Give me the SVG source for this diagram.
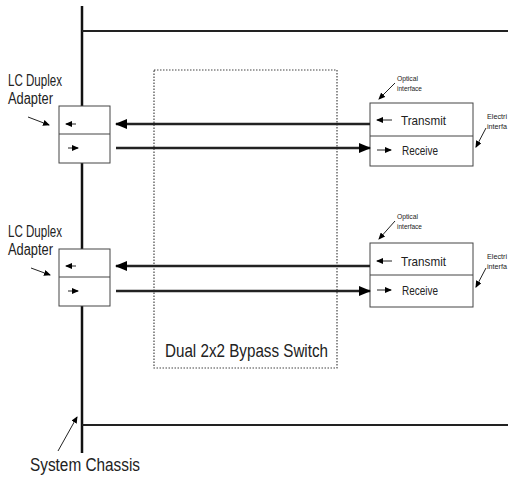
<svg xmlns="http://www.w3.org/2000/svg" width="508" height="477" viewBox="0 0 508 477">
<defs>
<marker id="big" markerWidth="12" markerHeight="10" refX="11" refY="5" orient="auto" markerUnits="userSpaceOnUse"><path d="M0,0 L12,5 L0,10 Z" fill="#000"/></marker>
<marker id="sm" markerWidth="7" markerHeight="6" refX="6" refY="3" orient="auto" markerUnits="userSpaceOnUse"><path d="M0,0 L7,3 L0,6 Z" fill="#000"/></marker>
</defs>
<style>
.t{font-family:"Liberation Sans",Arial,sans-serif;fill:#222}
.box{fill:#fff;stroke:#444;stroke-width:1}
.wire{stroke:#222;stroke-width:2.5;fill:none}
.thin{stroke:#222;stroke-width:1;fill:none}
</style>
<g id="chassis">
<line x1="82" y1="6" x2="82" y2="453" stroke="#111" stroke-width="2.5"/>
<line x1="82" y1="31" x2="508" y2="31" stroke="#222" stroke-width="2"/>
<line x1="82" y1="425" x2="508" y2="425" stroke="#222" stroke-width="2"/>
<text class="t" x="30" y="471" font-size="17.5" textLength="110" lengthAdjust="spacingAndGlyphs">System Chassis</text>
<line class="thin" x1="58" y1="451" x2="77" y2="417" marker-end="url(#sm)"/>
</g>
<g id="switch">
<rect x="154" y="70" width="183" height="298" fill="none" stroke="#444" stroke-width="1.2" stroke-dasharray="1.5,1.5"/>
<text class="t" x="165" y="357" font-size="18.5" textLength="163" lengthAdjust="spacingAndGlyphs">Dual 2x2 Bypass Switch</text>
</g>
<g id="lc1">
<rect class="box" x="59" y="106" width="51" height="57"/>
<line x1="59" y1="134" x2="110" y2="134" stroke="#444"/>
<line class="thin" x1="76" y1="124" x2="66" y2="124" marker-end="url(#sm)"/>
<line class="thin" x1="68" y1="148" x2="78" y2="148" marker-end="url(#sm)"/>
<text class="t" x="8" y="86" font-size="16" textLength="54" lengthAdjust="spacingAndGlyphs">LC Duplex</text>
<text class="t" x="8" y="104" font-size="16" textLength="45" lengthAdjust="spacingAndGlyphs">Adapter</text>
<line class="thin" x1="28" y1="117" x2="49" y2="125" marker-end="url(#sm)"/>
</g>
<g id="lc2">
<rect class="box" x="59" y="249" width="51" height="57"/>
<line x1="59" y1="277" x2="110" y2="277" stroke="#444"/>
<line class="thin" x1="76" y1="266" x2="66" y2="266" marker-end="url(#sm)"/>
<line class="thin" x1="68" y1="291" x2="78" y2="291" marker-end="url(#sm)"/>
<text class="t" x="8" y="237" font-size="16" textLength="54" lengthAdjust="spacingAndGlyphs">LC Duplex</text>
<text class="t" x="8" y="255" font-size="16" textLength="45" lengthAdjust="spacingAndGlyphs">Adapter</text>
<line class="thin" x1="31" y1="268" x2="50" y2="275" marker-end="url(#sm)"/>
</g>
<g id="trx1">
<rect class="box" x="370" y="103" width="103" height="63"/>
<line x1="370" y1="136" x2="473" y2="136" stroke="#444"/>
<line class="thin" x1="392" y1="120" x2="377" y2="120" marker-end="url(#sm)"/>
<line class="thin" x1="377" y1="150" x2="391" y2="150" marker-end="url(#sm)"/>
<text class="t" x="401" y="125" font-size="13.5" textLength="45" lengthAdjust="spacingAndGlyphs">Transmit</text>
<text class="t" x="402" y="155" font-size="13.5" textLength="36" lengthAdjust="spacingAndGlyphs">Receive</text>
<text class="t" x="397" y="81" font-size="7" textLength="21" lengthAdjust="spacingAndGlyphs">Optical</text>
<text class="t" x="397" y="91" font-size="7" textLength="25" lengthAdjust="spacingAndGlyphs">interface</text>
<line class="thin" x1="395" y1="83" x2="379" y2="99" marker-end="url(#sm)"/>
<text class="t" x="487" y="119" font-size="7" textLength="20" lengthAdjust="spacingAndGlyphs">Electri</text>
<text class="t" x="487" y="129" font-size="7" textLength="20" lengthAdjust="spacingAndGlyphs">interfa</text>
<line class="thin" x1="486" y1="128" x2="476" y2="147" marker-end="url(#sm)"/>
</g>
<g id="trx2">
<rect class="box" x="370" y="243" width="103" height="64"/>
<line x1="370" y1="275" x2="473" y2="275" stroke="#444"/>
<line class="thin" x1="392" y1="261" x2="377" y2="261" marker-end="url(#sm)"/>
<line class="thin" x1="377" y1="290" x2="391" y2="290" marker-end="url(#sm)"/>
<text class="t" x="401" y="266" font-size="13.5" textLength="45" lengthAdjust="spacingAndGlyphs">Transmit</text>
<text class="t" x="402" y="295" font-size="13.5" textLength="36" lengthAdjust="spacingAndGlyphs">Receive</text>
<text class="t" x="397" y="219" font-size="7" textLength="21" lengthAdjust="spacingAndGlyphs">Optical</text>
<text class="t" x="397" y="229" font-size="7" textLength="25" lengthAdjust="spacingAndGlyphs">interface</text>
<line class="thin" x1="395" y1="221" x2="379" y2="239" marker-end="url(#sm)"/>
<text class="t" x="487" y="259" font-size="7" textLength="20" lengthAdjust="spacingAndGlyphs">Electri</text>
<text class="t" x="487" y="269" font-size="7" textLength="20" lengthAdjust="spacingAndGlyphs">interfa</text>
<line class="thin" x1="486" y1="268" x2="476" y2="287" marker-end="url(#sm)"/>
</g>
<g id="connectors">
<line class="wire" x1="370" y1="124" x2="116" y2="124" marker-end="url(#big)"/>
<line class="wire" x1="116" y1="148" x2="370" y2="148" marker-end="url(#big)"/>
<line class="wire" x1="370" y1="266" x2="116" y2="266" marker-end="url(#big)"/>
<line class="wire" x1="116" y1="291" x2="370" y2="291" marker-end="url(#big)"/>
</g>
</svg>
